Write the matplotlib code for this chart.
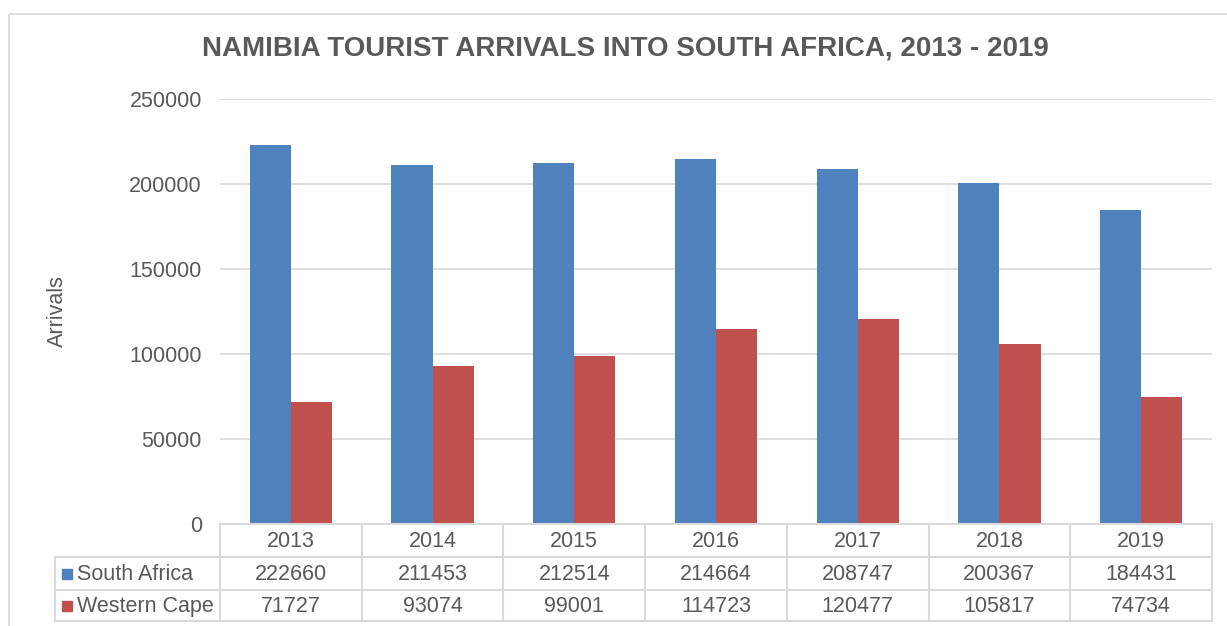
import numpy as np
import matplotlib.pyplot as plt
from matplotlib.patches import Rectangle

plt.rcParams['font.family'] = ['Liberation Sans', 'DejaVu Sans']

years = ['2013', '2014', '2015', '2016', '2017', '2018', '2019']
south_africa = [222660, 211453, 212514, 214664, 208747, 200367, 184431]
western_cape = [71727, 93074, 99001, 114723, 120477, 105817, 74734]
series_names = ['South Africa', 'Western Cape']
colors = ['#4F81BD', '#C0504D']
text_col = '#595959'
grid_col = '#D9D9D9'
fs = 15.5

W, H = 1227, 626
fig = plt.figure(figsize=(W / 100, H / 100), dpi=100)

# plot area in pixels
px_l, px_r, px_t, px_b = 220, 1212, 99, 524
ax = fig.add_axes([px_l / W, 1 - px_b / H, (px_r - px_l) / W, (px_b - px_t) / H])

x = np.arange(len(years))
bw = 0.29
ax.bar(x - bw / 2, south_africa, bw, color=colors[0], zorder=3)
ax.bar(x + bw / 2, western_cape, bw, color=colors[1], zorder=3)
ax.set_xlim(-0.5, len(years) - 0.5)
ax.set_ylim(0, 250000)
ax.set_yticks(np.arange(0, 250001, 50000))
ax.yaxis.grid(True, color=grid_col, linewidth=1.2, zorder=0)
ax.set_xticks([])
ax.tick_params(axis='y', length=0, pad=13, labelsize=fs, labelcolor=text_col)
for s in ax.spines.values():
    s.set_visible(False)
fig.text(57 / W, 1 - 311 / H, 'Arrivals', rotation=90, ha='center', va='center',
         fontsize=fs, color=text_col)

# overlay in pixel coordinates for frame and data table
ov = fig.add_axes([0, 0, 1, 1], zorder=-1)
ov.set_xlim(0, W)
ov.set_ylim(H, 0)
ov.axis('off')
ov.add_patch(Rectangle((9, 14), W + 20, H + 20, fill=False, edgecolor='#D9D9D9', linewidth=1.2))

ov2 = fig.add_axes([0, 0, 1, 1], zorder=5)
ov2.set_xlim(0, W)
ov2.set_ylim(H, 0)
ov2.axis('off')
ov2.patch.set_alpha(0)

cw = (px_r - px_l) / len(years)
rows_y = [524, 557, 590, 621]
left_col = 55
lc = '#D9D9D9'
ov2.plot([px_l, px_r], [rows_y[0]] * 2, color=lc, lw=1.5)
for yy in rows_y[1:]:
    ov2.plot([left_col, px_r], [yy] * 2, color=lc, lw=1.5)
ov2.plot([left_col] * 2, [rows_y[1], rows_y[3]], color=lc, lw=1.5)
for k in range(len(years) + 1):
    xx = px_l + k * cw
    ov2.plot([xx] * 2, [rows_y[0], rows_y[3]], color=lc, lw=1.5)

for i, yr in enumerate(years):
    cx = px_l + (i + 0.5) * cw
    ov2.text(cx, (rows_y[0] + rows_y[1]) / 2 + 1, yr, ha='center', va='center', fontsize=fs, color=text_col)
    ov2.text(cx, (rows_y[1] + rows_y[2]) / 2 + 1, str(south_africa[i]), ha='center', va='center', fontsize=fs, color=text_col)
    ov2.text(cx, (rows_y[2] + rows_y[3]) / 2 + 1, str(western_cape[i]), ha='center', va='center', fontsize=fs, color=text_col)

for r, (name, c) in enumerate(zip(series_names, colors)):
    cy = (rows_y[r + 1] + rows_y[r + 2]) / 2
    ov2.add_patch(Rectangle((62, cy - 5), 10, 10, color=c))
    ov2.text(77, cy + 1, name, ha='left', va='center', fontsize=fs, color=text_col)

fig.text(625 / W, 1 - 49 / H, 'NAMIBIA TOURIST ARRIVALS INTO SOUTH AFRICA, 2013 - 2019',
         ha='center', va='center', fontsize=20, fontweight='bold', color=text_col)

fig.savefig('out.png', dpi=100)
